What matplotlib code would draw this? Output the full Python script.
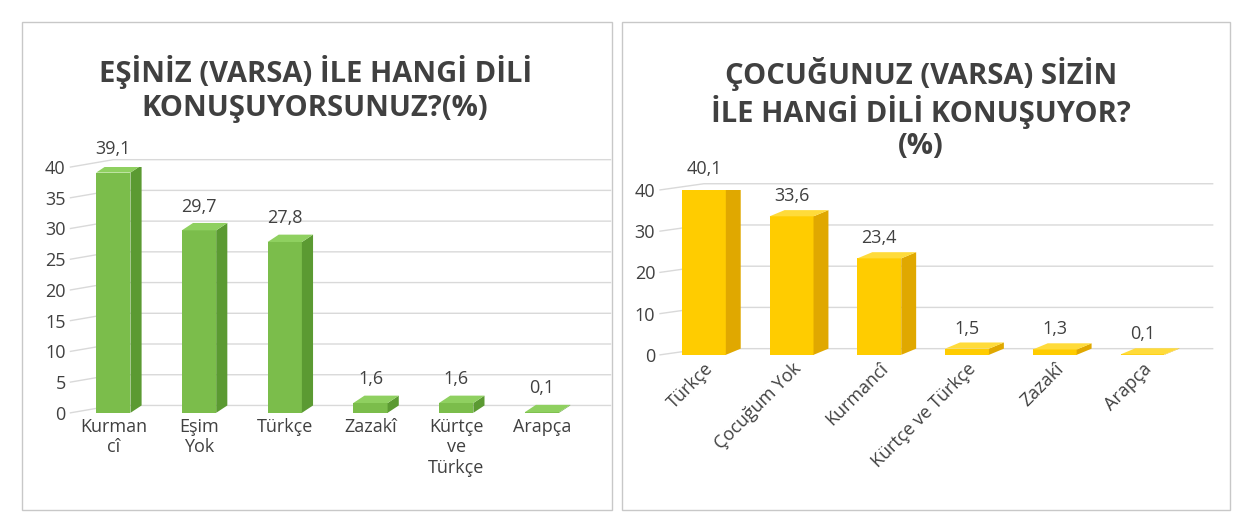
import matplotlib
matplotlib.use("Agg")
import matplotlib.pyplot as plt
from matplotlib.patches import Polygon, Rectangle

left_cats = ["Kurman\ncî", "Eşim\nYok", "Türkçe", "Zazakî", "Kürtçe\nve\nTürkçe", "Arapça"]
left_vals = [39.1, 29.7, 27.8, 1.6, 1.6, 0.1]
left_labels = ["39,1", "29,7", "27,8", "1,6", "1,6", "0,1"]
right_cats = ["Türkçe", "Çocuğum Yok", "Kurmancî", "Kürtçe ve Türkçe", "Zazakî", "Arapça"]
right_vals = [40.1, 33.6, 23.4, 1.5, 1.3, 0.1]
right_labels = ["40,1", "33,6", "23,4", "1,5", "1,3", "0,1"]

plt.rcParams['font.family'] = ['Open Sans', 'DejaVu Sans']
fig = plt.figure(figsize=(12.36, 5.32), dpi=100)
for x0, w in [(22, 590), (622, 608)]:
    fig.patches.append(Rectangle((x0/1236, 22/532), w/1236, 488/532, transform=fig.transFigure,
                                 fill=False, edgecolor='#c8c8c8', lw=1))

def bars3d(ax, vals, labels, front, side, top, dx, dy, ymax, step, w):
    for i, v in enumerate(vals):
        x = i - w/2
        ax.add_patch(Rectangle((x, 0), w, v, facecolor=front, edgecolor='none', zorder=3))
        ax.add_patch(Polygon([(x+w, 0), (x+w+dx, dy), (x+w+dx, v+dy), (x+w, v)], facecolor=side, edgecolor='none', zorder=3))
        ax.add_patch(Polygon([(x, v), (x+dx, v+dy), (x+w+dx, v+dy), (x+w, v)], facecolor=top, edgecolor='none', zorder=3))
        ax.text(i, v + dy + ymax*0.03, labels[i], ha='center', va='bottom', fontsize=13, color='#404040', clip_on=False)
    for t in range(0, ymax+1, step):
        ax.plot([-0.5, 0.0, len(vals)-0.5+0.3], [t, t+dy, t+dy], color='#d9d9d9', lw=1, zorder=1, clip_on=False)

ax1 = fig.add_axes([0.057, 0.224, 0.43, 0.462])
bars3d(ax1, left_vals, left_labels, '#7bbd4b', '#5b9a32', '#8fd060', 0.13, 1.2, 40, 5, 0.4)
ax1.set_xlim(-0.5, 5.7); ax1.set_ylim(0, 40)
ax1.set_yticks(range(0, 41, 5))
ax1.set_xticks(range(6)); ax1.set_xticklabels(left_cats, va='top', linespacing=1.2)
for s in ax1.spines.values(): s.set_visible(False)
ax1.tick_params(length=0, labelsize=13, labelcolor='#404040')
fig.text(0.255, 0.833, "EŞİNİZ (VARSA) İLE HANGİ DİLİ\nKONUŞUYORSUNUZ?(%)", ha='center', va='center',
         fontsize=21, fontweight='bold', color='#404040', linespacing=1.2)

ax2 = fig.add_axes([0.534, 0.333, 0.44, 0.31])
bars3d(ax2, right_vals, right_labels, '#ffcc00', '#e0a800', '#ffdb3a', 0.17, 1.5, 40, 10, 0.5)
ax2.set_xlim(-0.5, 5.7); ax2.set_ylim(0, 40)
ax2.set_yticks(range(0, 41, 10))
ax2.set_xticks(range(6)); ax2.set_xticklabels(right_cats, rotation=45, ha='right', rotation_mode='anchor', fontsize=14)
for s in ax2.spines.values(): s.set_visible(False)
ax2.tick_params(length=0, labelsize=13, labelcolor='#404040')
fig.text(0.745, 0.795, "ÇOCUĞUNUZ (VARSA) SİZİN\nİLE HANGİ DİLİ KONUŞUYOR?\n(%)", ha='center', va='center',
         fontsize=21, fontweight='bold', color='#404040', linespacing=1.15)

fig.savefig("out.png", dpi=100)
